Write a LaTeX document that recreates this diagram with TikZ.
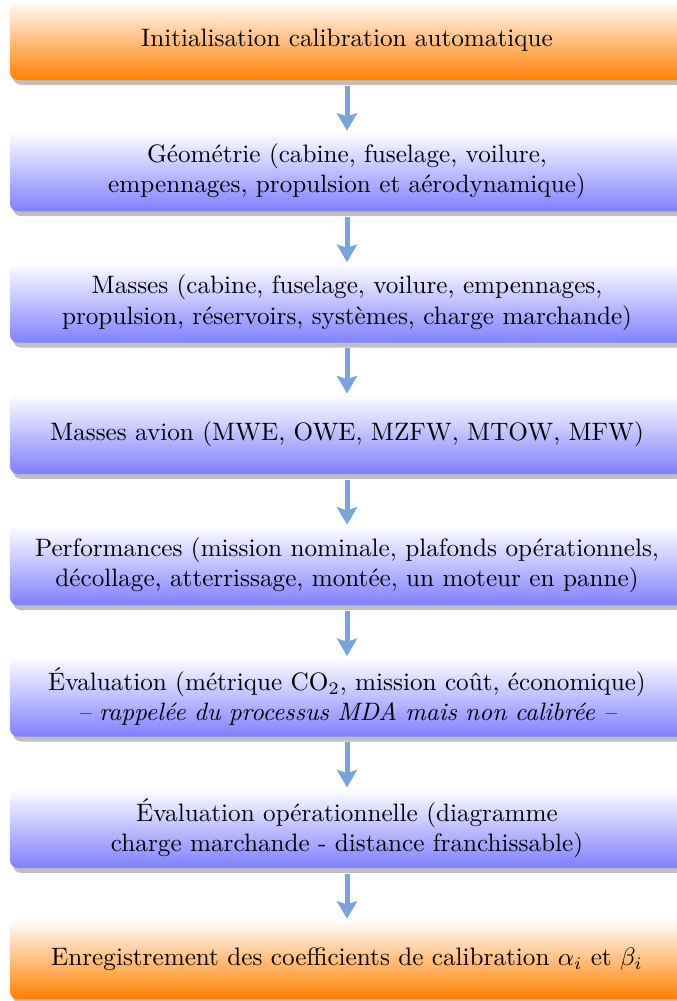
\documentclass[tikz,border=0pt]{standalone}
\usepackage{amsmath}
\usetikzlibrary{arrows.meta, positioning, shadows}
\definecolor{flowblue}{RGB}{122,163,219}
\tikzset{
    stagebox/.style={rounded corners=3.2pt, align=center, text width=258pt, inner xsep=4.85pt,
        minimum height=31.8pt, top color=white, bottom color=blue!50,
        drop shadow={shadow xshift=1.2pt, shadow yshift=-1.9pt, fill=black!25, opacity=1}},
    endbox/.style={stagebox, bottom color=orange},
    flow/.style={-{Stealth[length=7pt, width=8pt, inset=1.3pt]}, line width=2pt, flowblue}
}
\begin{document}
\begin{tikzpicture}[node distance=19.95pt]
        \useasboundingbox (0,0) rectangle (268.5pt,-397.5pt);
        \node [endbox] (init) at (137.8pt,-15.9pt) {Initialisation calibration automatique};
        \node [stagebox, below=of init] (geom) {G\'eom\'etrie (cabine, fuselage, voilure,\\ empennages, propulsion et a\'erodynamique)};
        \node [stagebox, below=of geom] (masses) {Masses (cabine, fuselage, voilure, empennages,\\ propulsion, r\'eservoirs, syst\`emes, charge marchande)};
        \node [stagebox, below=of masses] (mavion) {Masses avion (MWE, OWE, MZFW, MTOW, MFW)};
        \node [stagebox, below=of mavion] (perf) {Performances (mission nominale, plafonds op\'erationnels,\\ d\'ecollage, atterrissage, mont\'ee, un moteur en panne)};
        \node [stagebox, below=of perf] (evalu) {\'Evaluation (m\'etrique CO$_2$, mission co\^ut, \'economique)\\ \textit{-- rappel\'ee du processus MDA mais non calibr\'ee --}};
        \node [stagebox, below=of evalu] (evalop) {\'Evaluation op\'erationnelle (diagramme\\ charge marchande - distance franchissable)};
        \node [endbox, below=of evalop] (save) {Enregistrement des coefficients de calibration $\alpha_i$ et $\beta_i$};
        \foreach \a/\b in {init/geom, geom/masses, masses/mavion, mavion/perf, perf/evalu, evalu/evalop, evalop/save}
            \draw [flow] ([yshift=-2pt]\a.south) -- (\b.north);
    \end{tikzpicture}
\end{document}
